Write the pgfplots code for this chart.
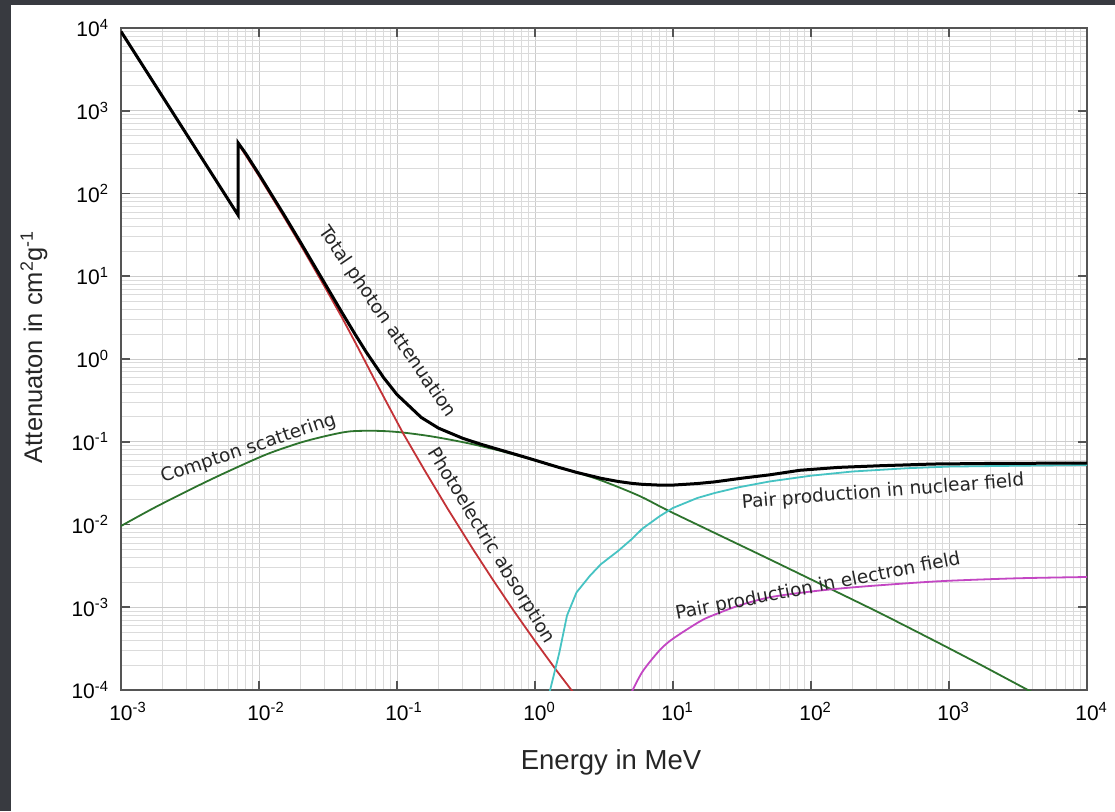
\documentclass[border=0pt]{standalone}
\usepackage{pgfplots}
\pgfplotsset{compat=1.18}
\usepackage{fontspec}
\setmainfont{Liberation Sans}
\newfontfamily\dejavu{DejaVu Sans}
\definecolor{bgdark}{RGB}{56,58,64}
\definecolor{cred}{RGB}{195,50,55}
\definecolor{cgreen}{RGB}{45,115,45}
\definecolor{ccyan}{RGB}{70,195,195}
\definecolor{cmag}{RGB}{195,70,195}
\definecolor{framec}{RGB}{85,85,85}
\begin{document}
\begin{tikzpicture}
\path[use as bounding box, fill=white] (0,0) rectangle (1115pt,811pt);
\fill[bgdark] (0,0) rectangle (11pt,811pt);
\fill[bgdark] (0,806pt) rectangle (1115pt,811pt);
\begin{axis}[
  at={(121pt,121pt)}, anchor=south west,
  scale only axis, width=966pt, height=662pt,
  xmode=log, ymode=log,
  xmin=1e-3, xmax=1e4, ymin=1e-4, ymax=1e4,
  xtick={1e-3,1e-2,1e-1,1,10,100,1000,10000},
  ytick={1e-4,1e-3,1e-2,1e-1,1,10,100,1000,10000},
  minor xtick={2e-3,3e-3,4e-3,5e-3,6e-3,7e-3,8e-3,9e-3,2e-2,3e-2,4e-2,5e-2,6e-2,7e-2,8e-2,9e-2,0.2,0.3,0.4,0.5,0.6,0.7,0.8,0.9,2,3,4,5,6,7,8,9,20,30,40,50,60,70,80,90,200,300,400,500,600,700,800,900,2000,3000,4000,5000,6000,7000,8000,9000},
  minor ytick={2e-4,3e-4,4e-4,5e-4,6e-4,7e-4,8e-4,9e-4,2e-3,3e-3,4e-3,5e-3,6e-3,7e-3,8e-3,9e-3,2e-2,3e-2,4e-2,5e-2,6e-2,7e-2,8e-2,9e-2,0.2,0.3,0.4,0.5,0.6,0.7,0.8,0.9,2,3,4,5,6,7,8,9,20,30,40,50,60,70,80,90,200,300,400,500,600,700,800,900,2000,3000,4000,5000,6000,7000,8000,9000},
  xticklabels={10\rlap{\textsuperscript{-3}},10\rlap{\textsuperscript{-2}},10\rlap{\textsuperscript{-1}},10\rlap{\textsuperscript{0}},10\rlap{\textsuperscript{1}},10\rlap{\textsuperscript{2}},10\rlap{\textsuperscript{3}},10\rlap{\textsuperscript{4}}},
  yticklabels={10\textsuperscript{-4},10\textsuperscript{-3},10\textsuperscript{-2},10\textsuperscript{-1},10\textsuperscript{0},10\textsuperscript{1},10\textsuperscript{2},10\textsuperscript{3},10\textsuperscript{4}},
  grid=both,
  major grid style={draw=gray!40, line width=0.8pt},
  minor grid style={draw=gray!28, line width=0.7pt},
  axis line style={draw=framec, line width=1.8pt},
  tick style={draw=framec, line width=1.8pt},
  major tick length=9pt, minor tick length=0pt,
  tick align=inside,
  xtick pos=both, ytick pos=both,
  ticklabel pos=left,
  xticklabel style={font=\fontsize{21pt}{24pt}\selectfont, yshift=-9pt},
  yticklabel style={font=\fontsize{21pt}{24pt}\selectfont, xshift=-9pt},
]
% Compton scattering
\addplot[cgreen, line width=1.8pt, smooth] coordinates {
(1e-3,0.00959)(1.778e-3,0.01622)(3.733e-3,0.0302)(6.31e-3,0.0457)(1.143e-2,0.0708)(2e-2,0.0977)(3.16e-2,0.1189)(4.56e-2,0.1334)(7.08e-2,0.1355)(0.1052,0.1303)(0.1778,0.1161)(0.3214,0.0966)(0.5623,0.0776)(1.0,0.0594)(1.778,0.0450)(2.958,0.0345)(5.623,0.0224)(9.057,0.01496)(19.95,0.00794)(50.1,0.0038)(144.2,0.001614)(316.2,0.000851)(765.6,0.000402)(1585,0.000214)(3733,0.0001)(5012,0.0000776)
};
% Photoelectric absorption
\addplot[cred, line width=1.8pt] coordinates {
(1e-3,9000)(7.05e-3,55)(7.05e-3,400)(8e-3,290)(1e-2,162)(1.5e-2,53.7)(2e-2,24.0)(3e-2,7.41)(4e-2,3.16)(5.13e-2,1.445)(7.08e-2,0.513)(0.1104,0.1276)(0.1585,0.0452)(0.2344,0.01524)(0.3548,0.00505)(0.5012,0.002084)(0.7079,0.000887)(1.0,0.000391)(1.4125,0.0001774)(1.884,0.0000944)
};
% Pair production in nuclear field
\addplot[ccyan, line width=1.8pt] coordinates {
(1.274,0.0000933)(1.5,0.000282)(1.706,0.000794)(2.0,0.001514)(2.5,0.0024)(3.0,0.00331)(4.0,0.00479)(5.0,0.00661)(6.0,0.00891)(8.0,0.01259)(10,0.01585)(15,0.0209)(20,0.0240)(30,0.0282)(50,0.0331)(100,0.0389)(200,0.0437)(500,0.0479)(1000,0.0501)(3162,0.0513)(10000,0.0524)
};
% Pair production in electron field
\addplot[cmag, line width=1.8pt, smooth] coordinates {
(4.95,0.00009)(6,0.000166)(8,0.000302)(10,0.000417)(15.7,0.000676)(20,0.000813)(30,0.001047)(50,0.001318)(100,0.001549)(200,0.001738)(500,0.00195)(1000,0.00209)(3162,0.00224)(10000,0.00232)
};
% Total photon attenuation
\addplot[black, line width=3pt] coordinates {
(1e-3,9085)(7.05e-3,55)(7.05e-3,410)(8e-3,305.6)(1e-2,170.6)(1.5e-2,57.08)(2e-2,25.68)(3e-2,8.176)(4e-2,3.629)(5e-2,1.958)(6e-2,1.205)(8e-2,0.5952)(0.1,0.3717)(0.15,0.1964)(0.2,0.146)(0.3,0.1099)(0.4,0.094)(0.5,0.08414)(0.6,0.07704)(0.8,0.06699)(1,0.05995)(1.25,0.0535)(1.5,0.04883)(2,0.04265)(3,0.03621)(4,0.03312)(5,0.03146)(6,0.03057)(8,0.02991)(10,0.02994)(15,0.03126)(20,0.03273)(31.6,0.0363)(50,0.0398)(83,0.0452)(158,0.0490)(316,0.0513)(766,0.0538)(2000,0.0547)(10000,0.0553)
};
\end{axis}
\tikzset{clab/.style={font=\dejavu\fontsize{18.5pt}{20pt}\selectfont, inner sep=0pt, text=black!85}}
\node[clab, rotate=18.6, anchor=base west] at (163pt,328pt) {Compton scattering};
\node[clab, rotate=-55.5] at (387pt,489pt) {Total photon attenuation};
\node[clab, rotate=-58.4] at (491pt,265pt) {Photoelectric absorption};
\node[clab, rotate=4.5] at (883pt,319pt) {Pair production in nuclear field};
\node[clab, rotate=11] at (818pt,224pt) {Pair production in electron field};
\node[font=\fontsize{27.5pt}{30pt}\selectfont, anchor=base, inner sep=0pt, text=black!85] at (611pt,42pt) {Energy in MeV};
\node[font=\fontsize{25.5pt}{28pt}\selectfont, anchor=base, rotate=90, inner sep=0pt, text=black!85] at (42pt,464pt) {Attenuaton in cm\textsuperscript{2}g\textsuperscript{-1}};
\end{tikzpicture}
\end{document}
